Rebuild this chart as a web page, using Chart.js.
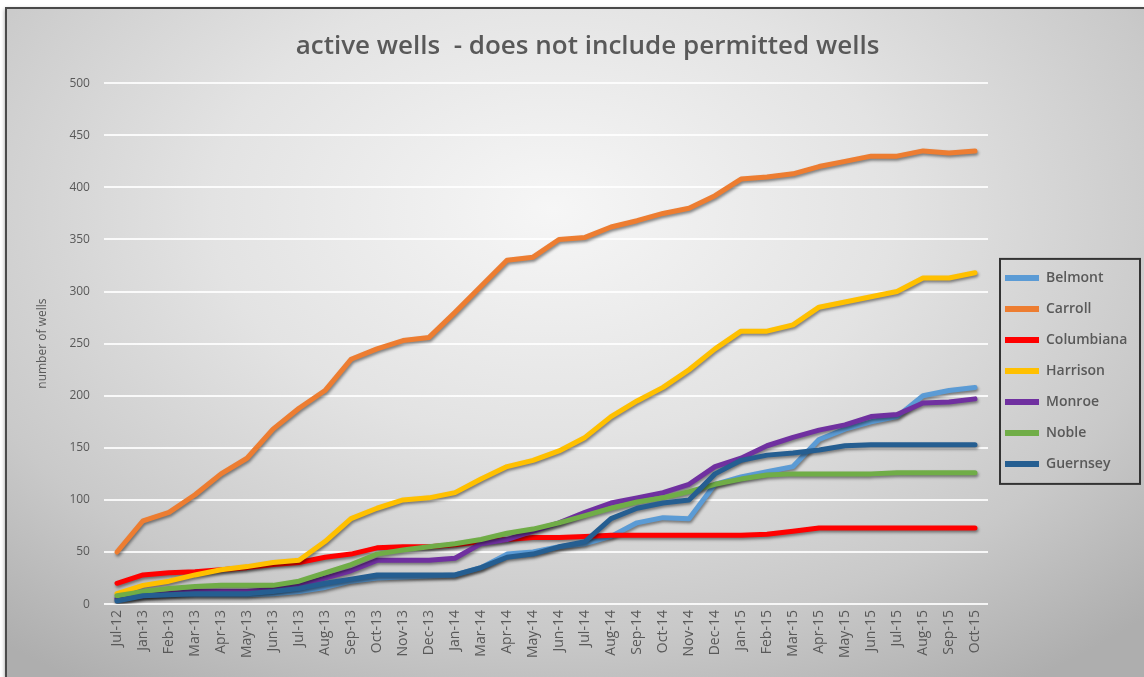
<!DOCTYPE html>
<html>
<head>
<meta charset="utf-8">
<script src="https://cdn.jsdelivr.net/npm/chart.js@4"></script>
<style>
  html, body { margin: 0; padding: 0; background: #ffffff; overflow: hidden; }
  #frame {
    position: absolute; left: 5px; top: 7px; width: 1137px; height: 668px;
    border-top: 2px solid #4a4a4a; border-left: 2px solid #4a4a4a;
    box-shadow: 0 2px 4px rgba(0,0,0,0.4);
    background: radial-gradient(ellipse 75% 85% at 48% 30%, #f6f6f6 0%, #e3e3e3 40%, #c9c9c9 75%, #aeaeae 100%);
  }
  #frame canvas { display: block; }
</style>
</head>
<body>
<div id="frame"><canvas id="wellsChart"></canvas></div>
<script>
// month labels on the category axis
const months = ['Jul-12','Jan-13','Feb-13','Mar-13','Apr-13','May-13','Jun-13','Jul-13','Aug-13','Sep-13',
  'Oct-13','Nov-13','Dec-13','Jan-14','Mar-14','Apr-14','May-14','Jun-14','Jul-14','Aug-14','Sep-14',
  'Oct-14','Nov-14','Dec-14','Jan-15','Feb-15','Mar-15','Apr-15','May-15','Jun-15','Jul-15','Aug-15',
  'Sep-15','Oct-15'];

// active well counts per county
const belmont    = [5,8,9,9,9,9,10,12,16,22,25,26,27,28,35,48,50,55,58,65,78,83,82,115,122,127,132,158,168,175,180,200,205,208];
const carroll    = [50,80,88,105,125,140,168,188,205,235,245,253,256,280,305,330,333,350,352,362,368,375,380,392,408,410,413,420,425,430,430,435,433,435];
const columbiana = [20,28,30,31,33,35,38,40,45,48,54,55,55,57,60,62,64,64,65,66,66,66,66,66,66,67,70,73,73,73,73,73,73,73];
const harrison   = [10,18,22,28,33,36,40,42,60,82,92,100,102,107,120,132,138,147,160,180,195,208,225,245,262,262,268,285,290,295,300,313,313,318];
const monroe     = [5,8,10,12,12,12,14,18,25,32,42,42,42,44,58,62,70,78,88,97,102,107,115,132,140,152,160,167,172,180,182,193,194,197];
const noble      = [8,12,15,17,18,18,18,22,30,38,48,52,55,58,62,68,72,78,85,92,98,102,108,115,120,124,125,125,125,125,126,126,126,126];
const guernsey   = [3,8,9,10,10,10,12,15,20,24,28,28,28,28,35,45,48,55,60,82,92,97,100,125,138,143,145,148,152,153,153,153,153,153];

const counties = ['Belmont','Carroll','Columbiana','Harrison','Monroe','Noble','Guernsey'];
const colors   = ['#5B9BD5','#ED7D31','#FF0000','#FFC000','#7030A0','#70AD47','#255E91'];
const values   = [belmont, carroll, columbiana, harrison, monroe, noble, guernsey];

const grey = '#595959';
const font = 'Open Sans';
const legendWidth = 156;

// soft drop shadow under each line
const lineShadow = {
  id: 'lineShadow',
  beforeDatasetDraw(chart) {
    const ctx = chart.ctx;
    ctx.save();
    ctx.shadowColor = 'rgba(0,0,0,0.45)';
    ctx.shadowBlur = 3;
    ctx.shadowOffsetX = 1;
    ctx.shadowOffsetY = 2;
  },
  afterDatasetDraw(chart) {
    chart.ctx.restore();
  }
};

// keep the legend column narrow and frame its entries
const legendBox = {
  id: 'legendBox',
  beforeUpdate(chart) {
    const lg = chart.legend;
    if (!lg || lg._narrowed) return;
    const fit = lg.fit;
    lg.fit = function () {
      fit.call(this);
      this.width = legendWidth;
    };
    lg._narrowed = true;
  },
  afterDraw(chart) {
    const lg = chart.legend;
    if (!lg || !lg.legendHitBoxes.length) return;
    const boxes = lg.legendHitBoxes;
    const first = boxes[0];
    const last = boxes[boxes.length - 1];
    const left = first.left - 5;
    const top = first.top - 12;
    const bottom = last.top + last.height + 13;
    const ctx = chart.ctx;
    ctx.save();
    ctx.strokeStyle = '#333333';
    ctx.lineWidth = 2;
    ctx.strokeRect(left, top, 140, bottom - top);
    ctx.restore();
  }
};

const datasets = counties.map((name, i) => ({
  label: name,
  data: values[i],
  borderColor: colors[i],
  backgroundColor: colors[i],
  borderWidth: 5,
  pointRadius: 0,
  tension: 0,
  borderCapStyle: 'round',
  borderJoinStyle: 'round',
  order: counties.length - i
}));

new Chart(document.getElementById('wellsChart'), {
  type: 'line',
  data: { labels: months, datasets: datasets },
  plugins: [lineShadow, legendBox],
  options: {
    responsive: true,
    maintainAspectRatio: false,
    animation: false,
    layout: { padding: { left: 24, right: 0, top: 0, bottom: 13 } },
    plugins: {
      title: {
        display: true,
        text: 'active wells  - does not include permitted wells',
        color: grey,
        font: { family: font, size: 26, weight: '600' },
        padding: { top: 22, bottom: 21 }
      },
      legend: {
        position: 'right',
        align: 'center',
        title: {
          display: true,
          text: ' ',
          font: { family: font, size: 14 },
          padding: { top: 26, bottom: 26 }
        },
        labels: {
          color: grey,
          font: { family: font, size: 14, weight: '600' },
          boxWidth: 34,
          boxHeight: 6,
          padding: 17,
          generateLabels(chart) {
            return chart.data.datasets.map((ds, i) => ({
              text: ds.label,
              fillStyle: ds.borderColor,
              strokeStyle: ds.borderColor,
              lineWidth: 0,
              fontColor: grey,
              datasetIndex: i
            }));
          }
        }
      },
      tooltip: { enabled: false }
    },
    scales: {
      x: {
        offset: true,
        grid: { display: false, drawTicks: false },
        border: { display: false },
        ticks: {
          color: grey,
          font: { family: font, size: 14 },
          minRotation: 90,
          maxRotation: 90,
          autoSkip: false,
          padding: 6
        }
      },
      y: {
        min: 0,
        max: 500,
        grid: { color: 'rgba(255,255,255,0.85)', lineWidth: 2, drawTicks: false },
        border: { display: false },
        ticks: {
          stepSize: 50,
          color: grey,
          font: { family: font, size: 12 },
          padding: 14
        },
        title: {
          display: true,
          text: 'number of wells',
          color: grey,
          font: { family: font, size: 12 },
          padding: { bottom: 6 }
        }
      }
    }
  }
});
</script>
</body>
</html>
